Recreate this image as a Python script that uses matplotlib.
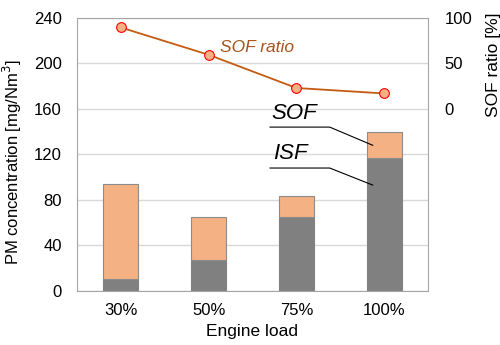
import numpy as np
import matplotlib.pyplot as plt

plt.rcParams['font.family'] = ['Liberation Sans', 'DejaVu Sans']

loads = ["30%", "50%", "75%", "100%"]
isf = [10.5, 27, 65, 117]
sof = [83.3, 38.3, 18.8, 22.5]
sof_ratio = [89.5, 59.5, 23, 17]

x = np.arange(len(loads))
grid_c = "#D9D9D9"
frame_c = "#A6A6A6"

fig, ax = plt.subplots(figsize=(5, 3.45), dpi=100)
fig.subplots_adjust(left=0.154, right=0.856, top=0.948, bottom=0.157)

ax.bar(x, isf, width=0.4, color="#808080", edgecolor="#808080", linewidth=0.8, zorder=2)
ax.bar(x, sof, width=0.4, bottom=isf, color="#F4B183", edgecolor="#8C8C8C", linewidth=0.8, zorder=2)

ax.set_xlim(-0.5, 3.5)
ax.set_ylim(0, 240)
ax.set_yticks(range(0, 241, 40))
ax.set_xticks(x)
ax.set_xticklabels(loads)
ax.yaxis.grid(True, color=grid_c, linewidth=1, zorder=0)
ax.set_axisbelow(True)
ax.tick_params(length=0, labelsize=12, pad=11)
ax.tick_params(axis='x', pad=9)
for s in ax.spines.values():
    s.set_color(frame_c)
ax.set_ylabel("PM concentration [mg/Nm$^3$]", fontsize=12)
ax.yaxis.set_label_coords(-0.152, 0.47)
ax.set_xlabel("Engine load", fontsize=12.5, labelpad=4)

ax2 = ax.twinx()
ax2.set_ylim(-200, 100)
ax2.set_yticks([0, 50, 100])
ax2.plot(x, sof_ratio, color="#C55A11", linewidth=1.3, marker="o", markersize=7,
         markerfacecolor="#F4B183", markeredgecolor="#FF0000", markeredgewidth=0.8, zorder=3)
ax2.tick_params(length=0, labelsize=12, pad=12)
for s in ax2.spines.values():
    s.set_visible(False)
ax2.set_ylabel("SOF ratio [%]", fontsize=12.5)
ax2.yaxis.set_label_coords(1.165, 0.83)

# labels and leader lines
ax.text(1.13, 214, "SOF ratio", fontsize=12.5, style="italic", color="#A8531C", va="center")
ax.text(1.72, 156, "SOF", fontsize=16, style="italic", va="center")
ax.text(1.74, 121, "ISF", fontsize=16, style="italic", va="center")
ax.plot([1.70, 2.38, 2.87], [144, 144, 128], color="black", linewidth=0.8, zorder=4)
ax.plot([1.70, 2.38, 2.87], [108, 108, 93], color="black", linewidth=0.8, zorder=4)

fig.savefig("out.png", dpi=100)
